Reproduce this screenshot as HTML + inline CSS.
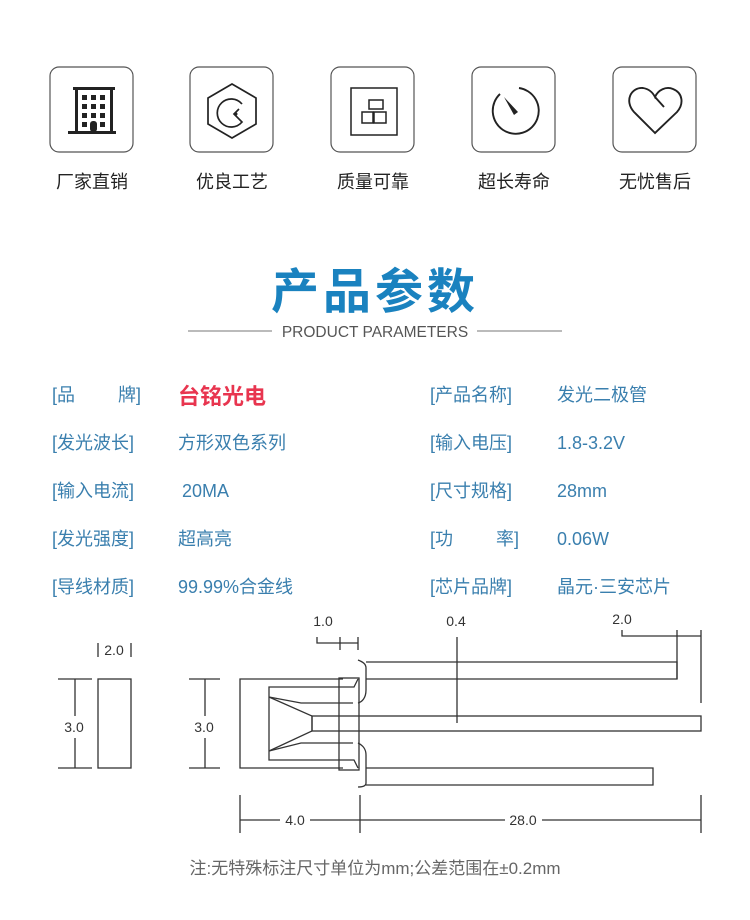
<!DOCTYPE html>
<html><head><meta charset="utf-8"><style>
html,body{margin:0;padding:0;background:#fff;}
svg{display:block;}
text{font-family:"Liberation Sans","Noto Sans CJK SC",sans-serif;}
</style></head><body>
<svg width="750" height="920" viewBox="0 0 750 920" xmlns="http://www.w3.org/2000/svg">
<!-- icon boxes -->
<g fill="none" stroke="#555" stroke-width="1.2">
<rect x="50" y="67" width="83" height="85" rx="9"/>
<rect x="190" y="67" width="83" height="85" rx="9"/>
<rect x="331" y="67" width="83" height="85" rx="9"/>
<rect x="472" y="67" width="83" height="85" rx="9"/>
<rect x="613" y="67" width="83" height="85" rx="9"/>
</g>
<!-- building -->
<g fill="#222">
<rect x="73" y="87" width="42" height="3"/>
<rect x="75" y="87" width="3" height="45"/>
<rect x="110" y="87" width="3" height="45"/>
<rect x="68" y="131" width="48" height="3"/>
<rect x="82" y="95" width="5" height="5"/><rect x="91" y="95" width="5" height="5"/><rect x="100" y="95" width="5" height="5"/>
<rect x="82" y="104" width="5" height="5"/><rect x="91" y="104" width="5" height="5"/><rect x="100" y="104" width="5" height="5"/>
<rect x="82" y="113" width="5" height="5"/><rect x="91" y="113" width="5" height="5"/><rect x="100" y="113" width="5" height="5"/>
<rect x="82" y="122" width="5" height="5"/><rect x="100" y="122" width="5" height="5"/>
<rect x="90" y="121" width="7" height="11" rx="3"/>
</g>
<!-- hexagon -->
<g fill="none" stroke="#222" stroke-width="1.7">
<polygon points="232,84 256,98 256,124 232,138 208,124 208,98"/>
<path d="M242,104 A14,14 0 1 0 242,122 L234,114 L239,109"/>
</g>
<circle cx="236" cy="114" r="1.5" fill="#222"/>
<!-- square -->
<g fill="none" stroke="#222" stroke-width="1.5">
<rect x="351" y="88" width="46" height="47"/>
<rect x="369" y="100" width="14" height="9"/>
<rect x="362" y="112" width="11" height="11"/>
<rect x="374" y="112" width="12" height="11"/>
</g>
<!-- timer -->
<g fill="none" stroke="#222" stroke-width="1.9">
<path d="M519,88 A23,23 0 1 1 500,94"/>
</g>
<path d="M504,97 L518,112 L514,115 Z" fill="#222"/>
<!-- heart -->
<path d="M655,133 L634,112 C624,101 631,87 643,88 C649,89 653,93 655,97 C658,90 666,86 673,89 C683,93 684,104 677,112 Z M655,97 L664,107" fill="none" stroke="#222" stroke-width="1.9"/>
<!-- icon labels -->
<g font-size="18" fill="#222" text-anchor="middle">
<text x="92" y="188">厂家直销</text>
<text x="232" y="188">优良工艺</text>
<text x="373" y="188">质量可靠</text>
<text x="514" y="188">超长寿命</text>
<text x="655" y="188">无忧售后</text>
</g>
<!-- title -->
<text x="375" y="308" font-size="48" font-weight="bold" fill="#1a82bf" text-anchor="middle" letter-spacing="4">产品参数</text>
<line x1="188" y1="331" x2="272" y2="331" stroke="#777" stroke-width="1"/>
<line x1="477" y1="331" x2="562" y2="331" stroke="#777" stroke-width="1"/>
<text x="375" y="337" font-size="15.5" fill="#555" text-anchor="middle">PRODUCT PARAMETERS</text>
<!-- params -->
<g font-size="18" fill="#3a7fae">
<text x="52" y="401">[品</text><text x="118" y="401">牌]</text>
<text x="52" y="449">[发光波长]</text>
<text x="52" y="497">[输入电流]</text>
<text x="52" y="545">[发光强度]</text>
<text x="52" y="593">[导线材质]</text>
<text x="430" y="401">[产品名称]</text>
<text x="430" y="449">[输入电压]</text>
<text x="430" y="497">[尺寸规格]</text>
<text x="430" y="545">[功</text><text x="496" y="545">率]</text>
<text x="430" y="593">[芯片品牌]</text>
<text x="178" y="449">方形双色系列</text>
<text x="182" y="497">20MA</text>
<text x="178" y="545">超高亮</text>
<text x="178" y="593">99.99%合金线</text>
<text x="557" y="401">发光二极管</text>
<text x="557" y="449">1.8-3.2V</text>
<text x="557" y="497">28mm</text>
<text x="557" y="545">0.06W</text>
<text x="557" y="593">晶元·三安芯片</text>
</g>
<text x="178" y="404" font-size="22" font-weight="bold" fill="#e8354f">台铭光电</text>
<!-- drawing -->
<g fill="none" stroke="#333" stroke-width="1.3">
<rect x="98" y="679" width="33" height="89"/>
<line x1="58" y1="679" x2="92" y2="679"/><line x1="58" y1="768" x2="92" y2="768"/>
<line x1="75" y1="679" x2="75" y2="716"/><line x1="75" y1="738" x2="75" y2="768"/>
<line x1="98" y1="643" x2="98" y2="657"/><line x1="131" y1="643" x2="131" y2="657"/>
<line x1="189" y1="679" x2="220" y2="679"/><line x1="189" y1="768" x2="220" y2="768"/>
<line x1="205" y1="679" x2="205" y2="716"/><line x1="205" y1="738" x2="205" y2="768"/>
<polyline points="343,679 240,679 240,768 343,768"/>
<rect x="339" y="678" width="20" height="92"/>
<polyline points="358,679 354,687 269,687 269,760 354,760 358,768"/>
<polyline points="269,697 301,703 353,703"/>
<polyline points="269,751 301,743 353,743"/>
<polyline points="269,697 312,716 312,731 269,751"/>
<rect x="312" y="716" width="389" height="15"/>
<path d="M366,662 L677,662 L677,679 L366,679"/>
<path d="M366,768 L653,768 L653,785 L366,785"/>
<path d="M358,660 C363,662 366,664 366,668 L366,690 C366,698 362,702 358,703"/>
<path d="M358,743 C362,745 366,748 366,755 L366,783 C366,786 362,787 358,787"/>
<polyline points="317,637 317,643 358,643"/>
<line x1="340" y1="637" x2="340" y2="650"/><line x1="358" y1="637" x2="358" y2="650"/>
<line x1="457" y1="637" x2="457" y2="723"/>
<polyline points="622,630 622,636 701,636"/>
<line x1="677" y1="630" x2="677" y2="679"/><line x1="701" y1="630" x2="701" y2="703"/>
<line x1="240" y1="795" x2="240" y2="833"/><line x1="360" y1="795" x2="360" y2="833"/><line x1="701" y1="795" x2="701" y2="833"/>
<line x1="240" y1="820" x2="280" y2="820"/><line x1="310" y1="820" x2="505" y2="820"/><line x1="542" y1="820" x2="701" y2="820"/>
</g>
<g font-size="14" fill="#333" text-anchor="middle">
<text x="114" y="655">2.0</text>
<text x="74" y="732">3.0</text>
<text x="204" y="732">3.0</text>
<text x="323" y="626">1.0</text>
<text x="456" y="626">0.4</text>
<text x="622" y="624">2.0</text>
<text x="295" y="825">4.0</text>
<text x="523" y="825">28.0</text>
</g>
<text x="375" y="874" font-size="17" fill="#666" text-anchor="middle">注:无特殊标注尺寸单位为mm;公差范围在±0.2mm</text>
</svg>
</body></html>
